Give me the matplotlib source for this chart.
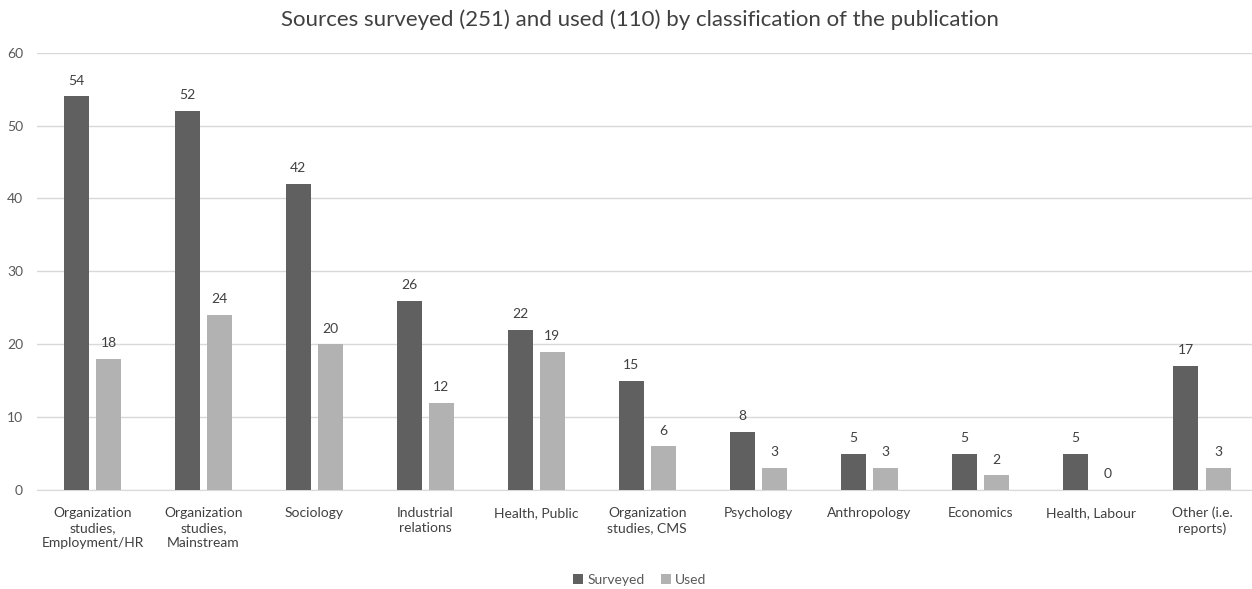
import matplotlib
matplotlib.use("Agg")
import matplotlib.pyplot as plt
import numpy as np

categories = ["Organization\nstudies,\nEmployment/HR", "Organization\nstudies,\nMainstream",
              "Sociology", "Industrial\nrelations", "Health, Public", "Organization\nstudies, CMS",
              "Psychology", "Anthropology", "Economics", "Health, Labour", "Other (i.e.\nreports)"]
surveyed = [54, 52, 42, 26, 22, 15, 8, 5, 5, 5, 17]
used = [18, 24, 20, 12, 19, 6, 3, 3, 2, 0, 3]
series_names = ["Surveyed", "Used"]

plt.rcParams['font.family'] = ['Lato', 'DejaVu Sans']
W, H = 1252, 589
fig = plt.figure(figsize=(W/100, H/100), dpi=100)
left, right, top, bottom = 37, 1252, 52.7, 490
ax = fig.add_axes([left/W, 1-bottom/H, (right-left)/W, (bottom-top)/H])

dark = "#606060"
light = "#b2b2b2"
txt = "#595959"
x = np.arange(len(categories))
off, bw = 0.145, 0.225
b1 = ax.bar(x - off, surveyed, bw, color=dark, label=series_names[0], zorder=3)
b2 = ax.bar(x + off, used, bw, color=light, label=series_names[1], zorder=3)
for bars, vals in ((b1, surveyed), (b2, used)):
    for rect, v in zip(bars, vals):
        ax.annotate(str(v), (rect.get_x() + rect.get_width()/2, v), xytext=(0, 7),
                    textcoords="offset points", ha="center", va="bottom",
                    fontsize=10, color="#404040")

ax.set_ylim(0, 60)
ax.set_xlim(-0.5, 10.45)
ax.set_yticks(range(0, 61, 10))
ax.yaxis.grid(True, color="#d9d9d9", linewidth=1, zorder=0)
ax.set_axisbelow(True)
for s in ["top", "right", "left"]:
    ax.spines[s].set_visible(False)
ax.spines["bottom"].set_color("#d9d9d9")
ax.set_xticks(x)
ax.set_xticklabels(categories, fontsize=10, color="#404040", linespacing=1.3)
ax.tick_params(axis="both", length=0, colors=txt, labelsize=10)
ax.tick_params(axis="x", pad=12, labelcolor="#404040")
ax.tick_params(axis="y", pad=10)

fig.text(640/W, 1-20/H, "Sources surveyed (251) and used (110) by classification of the publication",
         ha="center", va="center", fontsize=16, color="#404040")

leg = fig.legend(handles=[b1, b2], loc="center", bbox_to_anchor=(640/W, 1-580/H),
                 ncol=2, frameon=False, fontsize=10, handlelength=0.7, handleheight=0.7,
                 handletextpad=0.3, columnspacing=1.2, labelcolor="#595959")

fig.savefig("out.png", dpi=100, facecolor="white")
